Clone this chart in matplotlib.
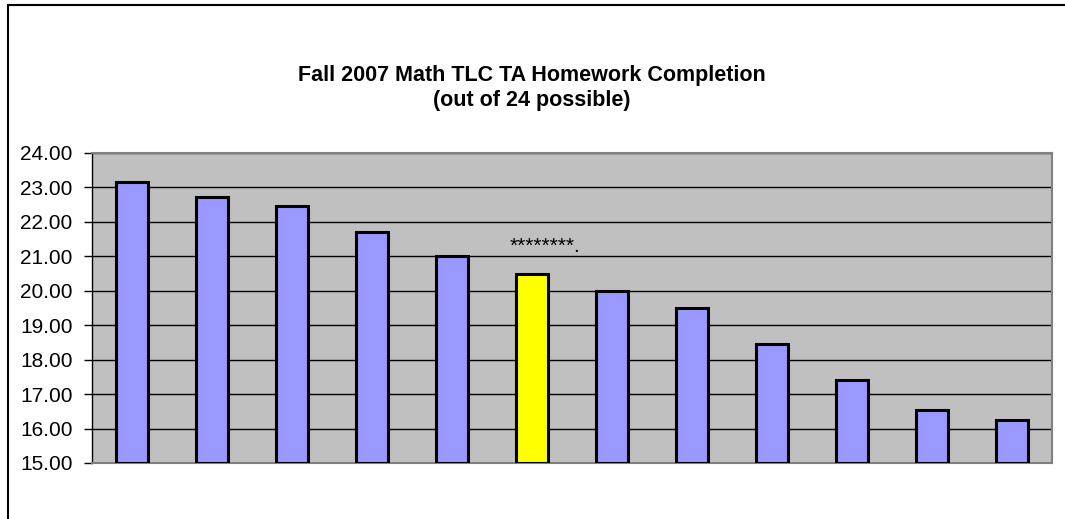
import matplotlib
matplotlib.use("Agg")
import matplotlib.pyplot as plt
from matplotlib.patches import Rectangle

values = [23.17, 22.72, 22.47, 21.71, 21.00, 20.50, 20.00, 19.50, 18.46, 17.40, 16.53, 16.25]
colors = ["#9999FF"] * 5 + ["#FFFF00"] + ["#9999FF"] * 6
yticks = [15, 16, 17, 18, 19, 20, 21, 22, 23, 24]
title = "Fall 2007 Math TLC TA Homework Completion\n(out of 24 possible)"
note = "********."
note_index = 5
note_value = 21.13

plt.rcParams['font.family'] = ['Liberation Sans', 'DejaVu Sans']

fig = plt.figure(figsize=(10.65, 5.19), dpi=100)
W, H = 1065, 519
# outer chart border
fig.patches.append(Rectangle((8 / W, -0.1), 1.2, 1 - 5 / H + 0.1, transform=fig.transFigure,
                             fill=False, edgecolor='black', linewidth=1.5))

ax = fig.add_axes([92 / W, 1 - 463 / H, (1052 - 92) / W, (463 - 153) / H])
ax.set_facecolor('#C0C0C0')
x = list(range(len(values)))
base = 15
ax.bar(x, [v - base for v in values], bottom=base, width=0.4, color=colors,
       edgecolor='black', linewidth=2.2, zorder=3)
ax.set_xlim(-0.5, len(values) - 0.5)
ax.set_ylim(15, 24)
ax.set_yticks(yticks)
ax.set_yticklabels([f"{t:.2f}" for t in yticks], fontsize=15)
ax.yaxis.grid(True, color='black', linewidth=1, zorder=0)
ax.set_axisbelow(True)
ax.set_xticks([])
ax.tick_params(axis='y', direction='out', length=6, width=1, color='black', pad=8)
for s in ax.spines.values():
    s.set_color('#808080')
    s.set_linewidth(1.5)
ax.spines['left'].set_color('black')
ax.spines['left'].set_linewidth(1)

ax.text(note_index - 0.275, note_value, note, ha='left', va='baseline', fontsize=15, zorder=4)

fig.text(532 / W, 1 - 88 / H, title, ha='center', va='center', fontsize=15.5,
         fontweight='bold', linespacing=1.2)

fig.savefig('out.png', dpi=100)
